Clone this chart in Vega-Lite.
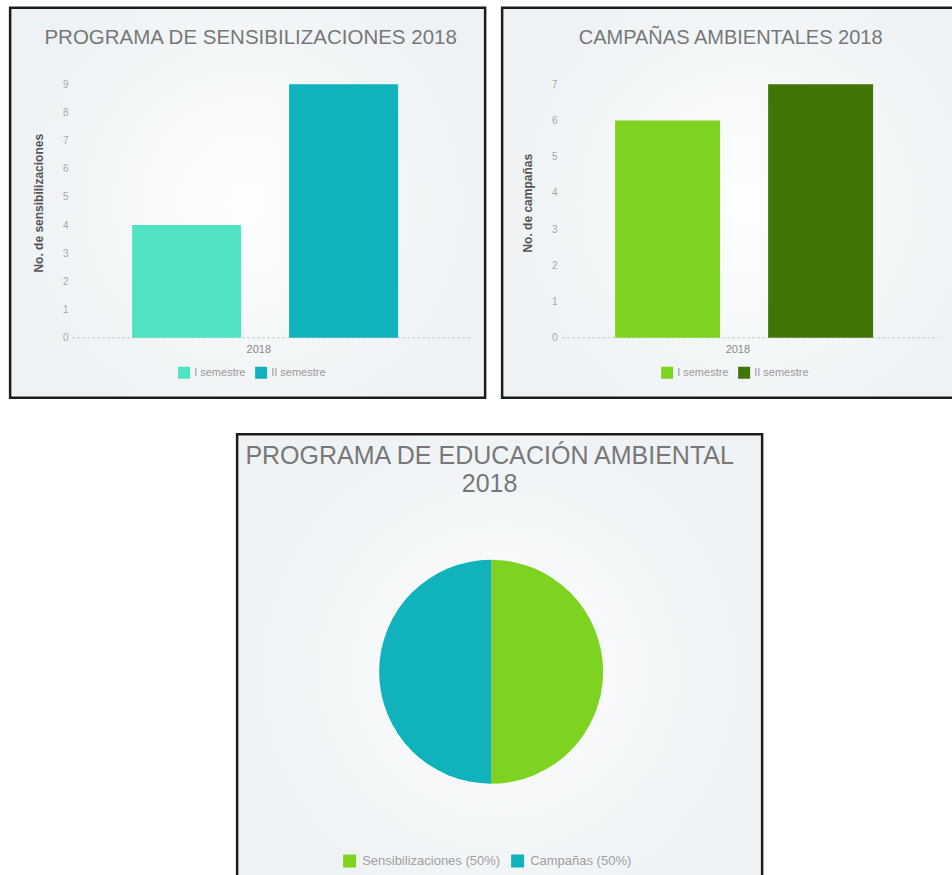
{
  "$schema": "https://vega.github.io/schema/vega-lite/v6.json",
  "padding": {"left": 8.75, "top": 5.75, "right": 0, "bottom": 0},
  "background": "#ffffff",
  "config": {
    "font": "Liberation Sans",
    "view": {
      "stroke": "#1c1c1c",
      "strokeWidth": 2.5,
      "fill": {"gradient": "radial", "stops": [{"offset": 0, "color": "#fdfefe"}, {"offset": 1, "color": "#eef2f4"}]}
    },
    "title": {"color": "#787878", "fontWeight": "normal", "anchor": "middle", "frame": "group"},
    "axis": {"grid": false, "ticks": false, "domain": false},
    "legend": {"padding": 0}
  },
  "vconcat": [
    {
      "hconcat": [
        {
          "width": 475,
          "height": 390,
          "title": {"text": "PROGRAMA DE SENSIBILIZACIONES 2018", "fontSize": 20.5, "offset": -41, "dx": 3},
          "data": {"values": [
            {"anio": "2018", "semestre": "I semestre", "valor": 4},
            {"anio": "2018", "semestre": "II semestre", "valor": 9}
          ]},
          "layer": [
            {
              "transform": [{"aggregate": [{"op": "count", "as": "n"}], "groupby": ["anio"]}],
              "mark": {"type": "rule", "strokeDash": [3, 2], "color": "#c9cdd0", "strokeWidth": 1},
              "encoding": {
                "x": {"field": "anio", "type": "nominal", "bandPosition": 0},
                "x2": {"field": "anio", "bandPosition": 1},
                "y": {"datum": 0, "type": "quantitative"}
              }
            },
            {
              "mark": {"type": "bar"},
              "encoding": {
                "x": {
                  "field": "anio", "type": "nominal",
                  "scale": {"paddingInner": 0, "paddingOuter": 0.0967, "align": 0.805},
                  "axis": {"orient": "bottom", "offset": -51, "labelAngle": 0, "title": null, "labelPadding": 3, "labelFontSize": 11, "labelColor": "#8a8a8a"}
                },
                "xOffset": {
                  "field": "semestre", "type": "nominal",
                  "scale": {"paddingInner": 0.3057, "paddingOuter": 0.4204, "align": 0.4545}
                },
                "y": {
                  "field": "valor", "type": "quantitative",
                  "scale": {"domain": [-2.13, 11.716], "nice": false, "zero": false},
                  "axis": {"values": [0, 1, 2, 3, 4, 5, 6, 7, 8, 9], "format": "d", "offset": -62, "labelPadding": 4, "labelFontSize": 10, "labelColor": "#a8a8a8", "title": "No. de sensibilizaciones", "titleFontSize": 12, "titleFontWeight": "bold", "titleColor": "#555555", "titlePadding": 17}
                },
                "y2": {"datum": 0},
                "color": {
                  "field": "semestre", "type": "nominal",
                  "scale": {"domain": ["I semestre", "II semestre"], "range": ["#50E3C2", "#10B2BB"]},
                  "legend": {"orient": "none", "legendX": 168, "legendY": 359, "direction": "horizontal", "title": null, "symbolType": "square", "symbolSize": 144, "symbolStrokeWidth": 0, "labelFontSize": 11, "labelColor": "#999999", "columnPadding": 9, "labelOffset": 4}
                }
              }
            }
          ]
        },
        {
          "width": 487,
          "height": 390,
          "title": {"text": "CAMPAÑAS AMBIENTALES 2018", "fontSize": 20, "offset": -40, "dx": -15},
          "data": {"values": [
            {"anio": "2018", "semestre": "I semestre", "valor": 6},
            {"anio": "2018", "semestre": "II semestre", "valor": 7}
          ]},
          "layer": [
            {
              "transform": [{"aggregate": [{"op": "count", "as": "n"}], "groupby": ["anio"]}],
              "mark": {"type": "rule", "strokeDash": [3, 2], "color": "#c9cdd0", "strokeWidth": 1},
              "encoding": {
                "x": {"field": "anio", "type": "nominal", "bandPosition": 0},
                "x2": {"field": "anio", "bandPosition": 1},
                "y": {"datum": 0, "type": "quantitative"}
              }
            },
            {
              "mark": {"type": "bar"},
              "encoding": {
                "x": {
                  "field": "anio", "type": "nominal",
                  "scale": {"paddingInner": 0, "paddingOuter": 0.1476, "align": 0.5405},
                  "axis": {"orient": "bottom", "offset": -51, "labelAngle": 0, "title": null, "labelPadding": 3, "labelFontSize": 11, "labelColor": "#8a8a8a"}
                },
                "xOffset": {
                  "field": "semestre", "type": "nominal",
                  "scale": {"paddingInner": 0.314, "paddingOuter": 0.3856, "align": 0.449}
                },
                "y": {
                  "field": "valor", "type": "quantitative",
                  "scale": {"domain": [-1.657, 9.113], "nice": false, "zero": false},
                  "axis": {"values": [0, 1, 2, 3, 4, 5, 6, 7], "format": "d", "offset": -60, "labelPadding": 5, "labelFontSize": 10, "labelColor": "#a8a8a8", "title": "No. de campañas", "titleFontSize": 12, "titleFontWeight": "bold", "titleColor": "#555555", "titlePadding": 17}
                },
                "y2": {"datum": 0},
                "color": {
                  "field": "semestre", "type": "nominal",
                  "scale": {"domain": ["I semestre", "II semestre"], "range": ["#7ED321", "#417505"]},
                  "legend": {"orient": "none", "legendX": 159, "legendY": 359, "direction": "horizontal", "title": null, "symbolType": "square", "symbolSize": 144, "symbolStrokeWidth": 0, "labelFontSize": 11, "labelColor": "#999999", "columnPadding": 9, "labelOffset": 4}
                }
              }
            }
          ]
        }
      ],
      "spacing": 13,
      "resolve": {"scale": {"color": "independent", "x": "independent", "y": "independent", "xOffset": "independent"}}
    },
    {
      "width": 525,
      "height": 475,
      "view": {
        "stroke": "#1c1c1c",
        "strokeWidth": 2.5,
        "fill": {"gradient": "radial", "stops": [{"offset": 0, "color": "#fdfefe"}, {"offset": 1, "color": "#eef2f4"}]}
      },
      "title": {"text": ["PROGRAMA DE EDUCACIÓN AMBIENTAL", "2018"], "fontSize": 25, "lineHeight": 28, "offset": -63, "dx": -10},
      "data": {"values": [
        {"etiqueta": "Sensibilizaciones (50%)", "valor": 13},
        {"etiqueta": "Campañas (50%)", "valor": 13}
      ]},
      "mark": {"type": "arc", "radius": 112, "xOffset": -8.5, "strokeWidth": 0},
      "encoding": {
        "theta": {"field": "valor", "type": "quantitative", "stack": true},
        "order": {"field": "etiqueta", "sort": "descending"},
        "color": {
          "field": "etiqueta", "type": "nominal",
          "scale": {"domain": ["Sensibilizaciones (50%)", "Campañas (50%)"], "range": ["#7ED321", "#10B2BB"]},
          "legend": {"orient": "none", "legendX": 106, "legendY": 420, "direction": "horizontal", "title": null, "symbolType": "square", "symbolSize": 169, "symbolStrokeWidth": 0, "labelFontSize": 13, "labelColor": "#a0a0a0", "columnPadding": 10, "labelOffset": 6}
        }
      }
    }
  ],
  "spacing": 32.5,
  "center": true,
  "resolve": {"scale": {"color": "independent"}}
}
